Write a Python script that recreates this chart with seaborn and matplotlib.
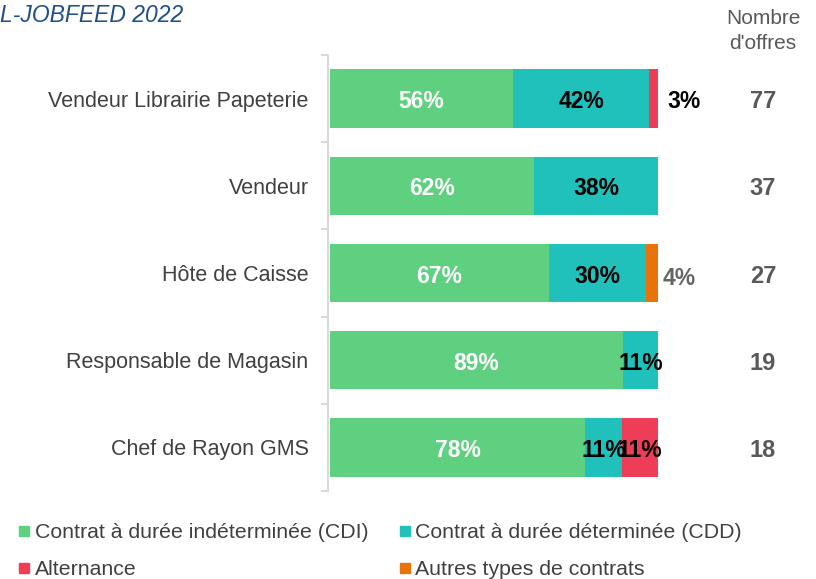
import matplotlib
matplotlib.use("Agg")
import matplotlib.pyplot as plt
from matplotlib.lines import Line2D
import seaborn as sns
import numpy as np
import pandas as pd

# ---------------- data ----------------
categories = ["Vendeur Librairie Papeterie", "Vendeur", "Hôte de Caisse",
              "Responsable de Magasin", "Chef de Rayon GMS"]
cdi = [55.8, 62.2, 66.7, 89.4, 77.8]
cdd = [41.6, 37.8, 29.6, 10.6, 11.1]
alternance = [2.6, 0.0, 0.0, 0.0, 11.1]
autres = [0.0, 0.0, 3.7, 0.0, 0.0]
nb_offres = [77, 37, 27, 19, 18]
series_names = ["Contrat à durée indéterminée (CDI)", "Contrat à durée déterminée (CDD)",
                "Alternance", "Autres types de contrats"]
colors = ["#5FCF80", "#20C0BB", "#EE3D56", "#E8730A"]
title_text = "L-JOBFEED 2022"
header_text = "Nombre\nd'offres"

# ---------------- style ----------------
sns.set_style("white")
plt.rcParams["font.family"] = ["Liberation Sans", "DejaVu Sans"]

fig = plt.figure(figsize=(8.16, 5.79), dpi=100)
ax = fig.add_axes([328 / 816, 1 - 491 / 579, 330 / 816, (491 - 55) / 579])

df = pd.DataFrame({"cat": categories, "cdi": cdi, "cdd": cdd,
                   "alt": alternance, "aut": autres})
df["c1"] = df["cdi"]
df["c2"] = df["c1"] + df["cdd"]
df["c3"] = df["c2"] + df["alt"]
df["c4"] = df["c3"] + df["aut"]

# stacked bars: draw cumulative totals from largest to smallest
for col, colr in zip(["c4", "c3", "c2", "c1"], colors[::-1]):
    sns.barplot(data=df, x=col, y="cat", order=categories, color=colr,
                width=0.67, ax=ax, saturation=1, edgecolor="none", linewidth=0)

ax.set_xlim(-0.6, 100)
ax.set_ylim(4.5, -0.5)
ax.set_xlabel("")
ax.set_ylabel("")
ax.set_xticks([])

for s in ["top", "right", "bottom"]:
    ax.spines[s].set_visible(False)
ax.spines["left"].set_color("#D9D9D9")
ax.spines["left"].set_linewidth(1.5)

ax.set_yticks(range(len(categories)))
ax.set_yticklabels(categories)
ax.set_yticks(np.arange(-0.5, len(categories), 1.0), minor=True)
ax.tick_params(axis="y", which="major", length=0, pad=14, labelsize=15.5, labelcolor="#404040")
ax.tick_params(axis="y", which="minor", length=5, width=1.5, color="#D9D9D9", left=True)

dy = 0.035
fs = 16.5
for i in range(len(categories)):
    ax.text(df.loc[i, "cdi"] / 2, i + dy, f"{df.loc[i, 'cdi']:.0f}%", ha="center", va="center",
            color="white", fontsize=fs, fontweight="bold")
    ax.text(df.loc[i, "c1"] + df.loc[i, "cdd"] / 2, i + dy, f"{df.loc[i, 'cdd']:.0f}%",
            ha="center", va="center", color="black", fontsize=fs, fontweight="bold")
    if df.loc[i, "alt"] > 0:
        if df.loc[i, "alt"] < 5:
            ax.text(108, i + dy, f"{df.loc[i, 'alt']:.0f}%", ha="center", va="center",
                    color="black", fontsize=fs, fontweight="bold", clip_on=False)
        else:
            ax.text(df.loc[i, "c2"] + df.loc[i, "alt"] / 2, i + dy, f"{df.loc[i, 'alt']:.0f}%",
                    ha="center", va="center", color="black", fontsize=fs, fontweight="bold")
    if df.loc[i, "aut"] > 0:
        ax.text(106.4, i + dy + 0.03, f"{df.loc[i, 'aut']:.0f}%", ha="center", va="center",
                color="#666666", fontsize=fs, fontweight="bold", clip_on=False)
    ax.text(132, i + dy, f"{nb_offres[i]}", ha="center", va="center", color="#595959",
            fontsize=17, fontweight="bold", clip_on=False)

fig.text(763 / 816, 1 - 31 / 579, header_text, ha="center", va="center",
         color="#595959", fontsize=15, linespacing=1.35)

fig.text(183 / 816, 1 - 15 / 579, title_text, ha="right", va="center",
         color="#1F4E8C", fontsize=16.5, style="italic")

handles = [Line2D([], [], marker="s", linestyle="none", markersize=6.5,
                  markerfacecolor=c, markeredgecolor=c) for c in colors]
order = [0, 2, 1, 3]
fig.legend([handles[k] for k in order], [series_names[k] for k in order],
           ncol=2, loc="center left", bbox_to_anchor=(19 / 816, 1 - 551 / 579),
           frameon=False, fontsize=15.3, handlelength=0.5, handletextpad=0.25,
           columnspacing=1.45, labelspacing=0.85, labelcolor="#404040",
           borderaxespad=0, borderpad=0)

fig.savefig("out.png", dpi=100)
